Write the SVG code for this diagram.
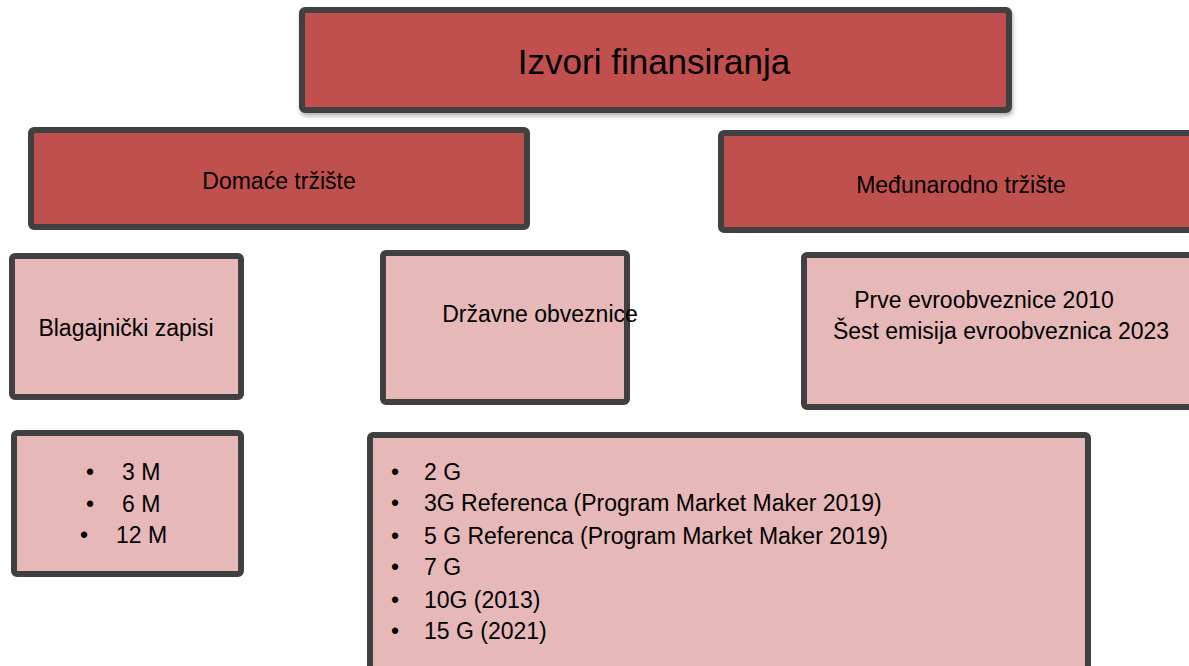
<svg xmlns="http://www.w3.org/2000/svg" width="1189" height="666" viewBox="0 0 1189 666">
<style>
.dark{fill:#C0504D;stroke:#404040;stroke-width:6}
.light{fill:#E6B8B7;stroke:#404040;stroke-width:6}
text{font-family:"Liberation Sans",Arial,sans-serif;fill:#000}
.t{font-size:23px}
.c{text-anchor:middle}
</style>
<defs>
<filter id="sh" x="-5%" y="-5%" width="110%" height="115%">
<feDropShadow dx="1" dy="3" stdDeviation="2" flood-color="#000" flood-opacity="0.3"/>
</filter>
</defs>
<rect width="1189" height="666" fill="#fff"/>
<g id="connectors"></g>
<g id="n-izvori">
<rect class="dark" x="302" y="10" width="707" height="100" rx="3" filter="url(#sh)"/>
<text class="c" x="654" y="74" style="font-size:35px">Izvori finansiranja</text>
</g>
<g id="n-domace">
<rect class="dark" x="31" y="130" width="496" height="97" rx="3"/>
<text class="t c" x="279" y="189">Domaće tržište</text>
</g>
<g id="n-medjunarodno">
<rect class="dark" x="721" y="133" width="480" height="97" rx="3"/>
<text class="t c" x="961" y="193">Međunarodno tržište</text>
</g>
<g id="n-blagajnicki">
<rect class="light" x="12" y="256" width="229" height="141" rx="3"/>
<text class="t c" x="126" y="336">Blagajnički zapisi</text>
</g>
<g id="n-drzavne">
<rect class="light" x="383" y="253" width="244" height="149" rx="3"/>
<text class="t c" x="540" y="322">Državne obveznice</text>
</g>
<g id="n-evro">
<rect class="light" x="804" y="255" width="400" height="152" rx="3"/>
<text class="t c" x="984" y="308">Prve evroobveznice 2010</text>
<text class="t c" x="1001" y="339">Šest emisija evroobveznica 2023</text>
</g>
<g id="n-rokovi">
<rect class="light" x="14" y="433" width="227" height="141" rx="3"/>
<text class="t" x="86" y="480">•</text><text class="t" x="122" y="480">3 M</text>
<text class="t" x="86" y="512">•</text><text class="t" x="122" y="512">6 M</text>
<text class="t" x="80" y="543">•</text><text class="t" x="116" y="543">12 M</text>
</g>
<g id="n-obveznice-lista">
<rect class="light" x="370" y="435" width="718" height="250" rx="3"/>
<text class="t" x="391" y="480">•</text><text class="t" x="424" y="480">2 G</text>
<text class="t" x="391" y="511">•</text><text class="t" x="424" y="511">3G Referenca (Program Market Maker 2019)</text>
<text class="t" x="391" y="544">•</text><text class="t" x="424" y="544">5 G Referenca (Program Market Maker 2019)</text>
<text class="t" x="391" y="575">•</text><text class="t" x="424" y="575">7 G</text>
<text class="t" x="391" y="608">•</text><text class="t" x="424" y="608">10G (2013)</text>
<text class="t" x="391" y="639">•</text><text class="t" x="424" y="639">15 G  (2021)</text>
</g>
</svg>
